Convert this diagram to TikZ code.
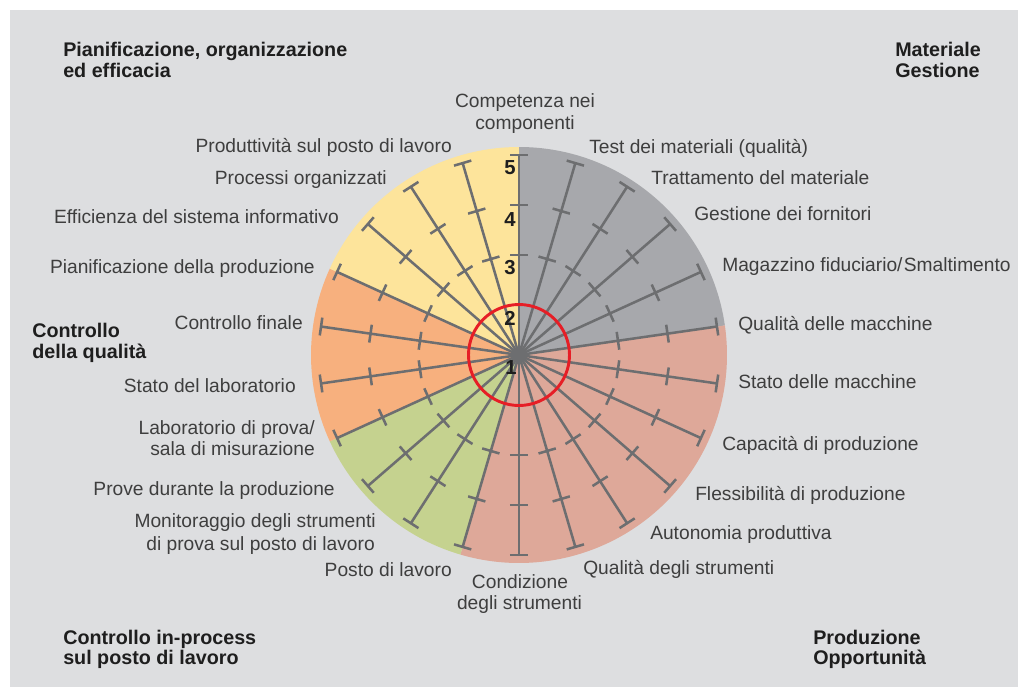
\documentclass[tikz,border=0pt]{standalone}
\usepackage{fontspec}
\setmainfont{Liberation Sans}
\definecolor{bggray}{HTML}{DDDEE0}
\definecolor{cgray}{HTML}{A7A8AC}
\definecolor{cpink}{HTML}{DEA899}
\definecolor{cgreen}{HTML}{C5D28F}
\definecolor{corange}{HTML}{F7B07E}
\definecolor{cyellow}{HTML}{FDE49B}
\definecolor{spokec}{HTML}{6D6E70}
\definecolor{redc}{HTML}{E61E26}
\definecolor{labelc}{HTML}{3E3E3E}
\definecolor{hdrc}{HTML}{1E1E1E}
\begin{document}
\begin{tikzpicture}[x=0.75pt,y=0.75pt,
  spoke/.style={draw=spokec,line width=1.9pt},
  lbl/.style={inner sep=0pt,text=labelc,font=\fontsize{14.4}{16.5}\selectfont},
  lw/.style={lbl,anchor=base west},
  le/.style={lbl,anchor=base east},
  lc/.style={lbl,anchor=base},
  hdr/.style={inner sep=0pt,text=hdrc,anchor=base west,font=\fontsize{14.8}{16.5}\selectfont\bfseries},
  num/.style={inner sep=0pt,text=hdrc,font=\fontsize{15.2}{16.5}\selectfont\bfseries}]
\useasboundingbox (-519,-332) rectangle (499,355);
\fill[white] (-519,-332) rectangle (499,355);
\fill[bggray] (-509,-332) rectangle (499,345);
% sectors
\fill[cgray] (0,0) -- (90:208) arc[start angle=90, end angle=8.1818, radius=208] -- cycle;
\fill[cpink] (0,0) -- (8.1818:208) arc[start angle=8.1818, end angle=-106.3636, radius=208] -- cycle;
\fill[cgreen] (0,0) -- (-106.3636:208) arc[start angle=-106.3636, end angle=-155.4545, radius=208] -- cycle;
\fill[corange] (0,0) -- (204.5455:208) arc[start angle=204.5455, end angle=155.4545, radius=208] -- cycle;
\fill[cyellow] (0,0) -- (155.4545:208) arc[start angle=155.4545, end angle=90, radius=208] -- cycle;
% spokes with ticks
\foreach \k in {0,...,21}{
  \pgfmathsetmacro\ang{90-\k*360/22}
  \begin{scope}[rotate=\ang]
    \draw[spoke] (0,0) -- (200,0);
    \foreach \r in {100,150,200} \draw[spoke] (\r,-9) -- (\r,9);
  \end{scope}
}
% red circle
\draw[redc,line width=2.2pt] (0,0) circle[radius=50.5];
% scale numbers
\node[num] (n5) at (-9,187) {5};
\node[num] (n4) at (-9,135) {4};
\node[num] (n3) at (-9,87) {3};
\node[num] (n2) at (-9,37) {2};
\node[num] (n1) at (-8,-13) {1};
% labels
\node[lc] (l1a) at (6,248) {Competenza nei};
\node[lc] (l1b) at (6,226) {componenti};
\node[lw] (l2) at (70,202) {Test dei materiali (qualità)};
\node[lw] (l3) at (132,171) {Trattamento del materiale};
\node[lw] (l4) at (175,135) {Gestione dei fornitori};
\node[lw] (l5) at (203,84) {Magazzino fiduciario/\kern1pt Smaltimento};
\node[lw] (l6) at (219,25) {Qualità delle macchine};
\node[lw] (l7) at (219,-33) {Stato delle macchine};
\node[lw] (l8) at (203,-95) {Capacità di produzione};
\node[lw] (l9) at (176,-145) {Flessibilità di produzione};
\node[lw] (l10) at (131,-184) {Autonomia produttiva};
\node[lw] (l11) at (64,-219) {Qualità degli strumenti};
\node[lc] (l12a) at (1,-233) {Condizione};
\node[lc] (l12b) at (0.5,-254) {degli strumenti};
\node[le] (l13) at (-67,-221) {Posto di lavoro};
\node[le] (l14a) at (-143,-172) {Monitoraggio degli strumenti};
\node[le] (l14b) at (-144,-195) {di prova sul posto di lavoro};
\node[le] (l15) at (-184,-140) {Prove durante la produzione};
\node[le] (l16a) at (-204,-79) {Laboratorio di prova/};
\node[le] (l16b) at (-204,-100) {sala di misurazione};
\node[le] (l17) at (-223,-37) {Stato del laboratorio};
\node[le] (l18) at (-216,26) {Controllo finale};
\node[le] (l19) at (-204,82) {Pianificazione della produzione};
\node[le] (l20) at (-180,132) {Efficienza del sistema informativo};
\node[le] (l21) at (-132,171) {Processi organizzati};
\node[le] (l22) at (-67,203) {Produttività sul posto di lavoro};
% headers
\node[hdr] (h1a) at (-456,299) {Pianificazione, organizzazione};
\node[hdr] (h1b) at (-456,278) {ed efficacia};
\node[hdr] (h2a) at (376,299) {Materiale};
\node[hdr] (h2b) at (376,278) {Gestione};
\node[hdr] (h3a) at (-487,18) {Controllo};
\node[hdr] (h3b) at (-487,-3) {della qualità};
\node[hdr] (h4a) at (-456,-289) {Controllo in-process};
\node[hdr] (h4b) at (-456,-309) {sul posto di lavoro};
\node[hdr] (h5a) at (294,-289) {Produzione};
\node[hdr] (h5b) at (294,-309) {Opportunità};
\end{tikzpicture}
\end{document}
